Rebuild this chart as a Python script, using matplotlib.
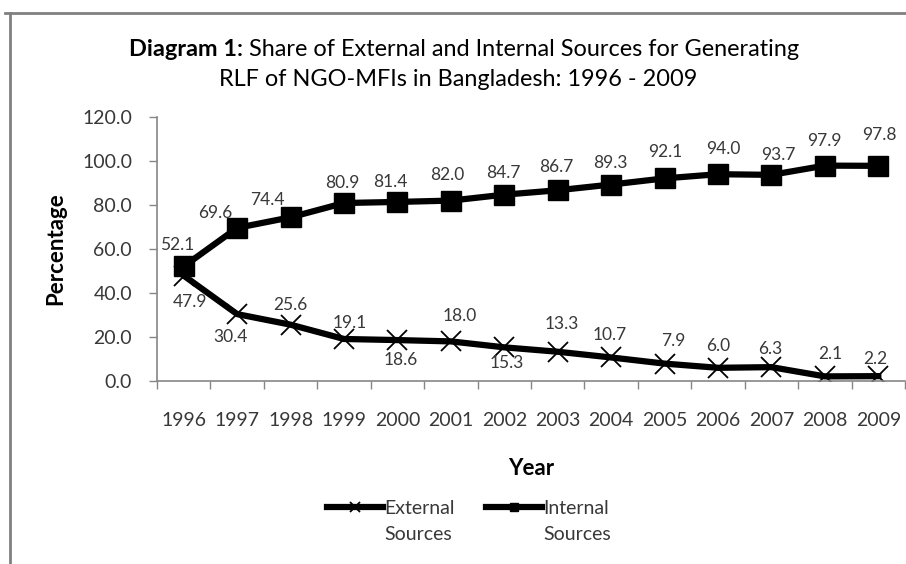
import numpy as np
import matplotlib.pyplot as plt
from matplotlib.lines import Line2D

plt.rcParams['font.family'] = ['Lato', 'DejaVu Sans']

years = ['1996', '1997', '1998', '1999', '2000', '2001', '2002',
         '2003', '2004', '2005', '2006', '2007', '2008', '2009']
external = [47.9, 30.4, 25.6, 19.1, 18.6, 18.0, 15.3, 13.3, 10.7, 7.9, 6.0, 6.3, 2.1, 2.2]
internal = [52.1, 69.6, 74.4, 80.9, 81.4, 82.0, 84.7, 86.7, 89.3, 92.1, 94.0, 93.7, 97.9, 97.8]

# label offsets in pixels (dx, dy), dy up
ext_off = [(6, -26), (-7, -23), (0, 20), (6, 16), (3, -20), (9, 25), (3, -16),
           (4, 28), (-1, 22), (9, 23), (0, 22), (-1, 18), (5, 22), (-3, 17)]
int_off = [(-7, 21), (-22, 15), (-23, 17), (-2, 20), (-7, 20), (-4, 26), (-1, 22),
           (-1, 23), (-1, 22), (1, 26), (5, 25), (7, 20), (0, 25), (1, 31)]

fig = plt.figure(figsize=(9.06, 5.64), dpi=100)
ax = fig.add_axes([157/906, 1-381/564, 748/906, 264/564])

x = np.arange(len(years))
ext_line, = ax.plot(x, external, color='black', lw=4.5, marker='x', ms=15, mew=1.3)
int_line, = ax.plot(x, internal, color='black', lw=4.5, marker='s', ms=14)

txt = '#383838'
for i in range(len(years)):
    ax.annotate(f'{external[i]:.1f}', (x[i], external[i]), xytext=ext_off[i],
                textcoords='offset pixels', ha='center', va='center',
                fontsize=12.5, color=txt)
    ax.annotate(f'{internal[i]:.1f}', (x[i], internal[i]), xytext=int_off[i],
                textcoords='offset pixels', ha='center', va='center',
                fontsize=12.5, color=txt)

ax.set_xlim(-0.5, len(years) - 0.5)
ax.set_ylim(0, 120)
ax.set_yticks(np.arange(0, 121, 20))
ax.set_yticklabels([f'{v:.1f}' for v in np.arange(0, 121, 20)])
ax.set_xticks(x)
ax.set_xticklabels(years)
ax.set_xticks(np.arange(-0.5, len(years), 1), minor=True)
ax.tick_params(axis='x', which='major', length=0, pad=22, labelsize=14, labelcolor=txt)
ax.tick_params(axis='x', which='minor', length=6, color='#868686', width=1)
ax.tick_params(axis='y', length=6, color='#868686', width=1, pad=12,
               labelsize=14, labelcolor=txt)
for s in ['top', 'right']:
    ax.spines[s].set_visible(False)
for s in ['left', 'bottom']:
    ax.spines[s].set_color('#868686')
    ax.spines[s].set_linewidth(1.2)

ax.set_xlabel('Year', fontsize=16, fontweight='bold', labelpad=21)
ax.set_ylabel('Percentage', fontsize=16, fontweight='bold', labelpad=11)

# title: bold lead-in followed by regular text, centred as one line
fig.canvas.draw()
r = fig.canvas.get_renderer()
t1 = fig.text(0, 1-50/564, 'Diagram 1: ', fontsize=16.9, fontweight='bold', va='center')
t2 = fig.text(0, 1-50/564, 'Share of External and Internal Sources for Generating',
              fontsize=16.9, va='center')
w1 = t1.get_window_extent(r).width
w2 = t2.get_window_extent(r).width
x0 = (464 - (w1 + w2) / 2) / 906
t1.set_x(x0)
t2.set_x(x0 + w1 / 906)
fig.text(458/906, 1-80/564, 'RLF of NGO-MFIs in Bangladesh: 1996 - 2009',
         ha='center', va='center', fontsize=16.9)

leg = fig.legend([ext_line, int_line], ['External', 'Internal'],
                 loc='center', bbox_to_anchor=(468/906, 1-508/564), ncol=2,
                 frameon=False, fontsize=14, markerscale=0.45, handlelength=2.9,
                 handletextpad=0.05, columnspacing=1.6, labelcolor=txt)
fig.canvas.draw()
for t in leg.get_texts():
    bb = t.get_window_extent(r)
    fig.text(bb.x0 / 906, (bb.y0 - 27) / 564, 'Sources', fontsize=14,
             color=txt, va='bottom')

# chart frame
fig.add_artist(Line2D([5/906, 1], [1-13/564, 1-13/564], color='#808080', lw=2))
fig.add_artist(Line2D([10/906, 10/906], [0, 1-13/564], color='#808080', lw=2))

fig.savefig('out.png', dpi=100)
